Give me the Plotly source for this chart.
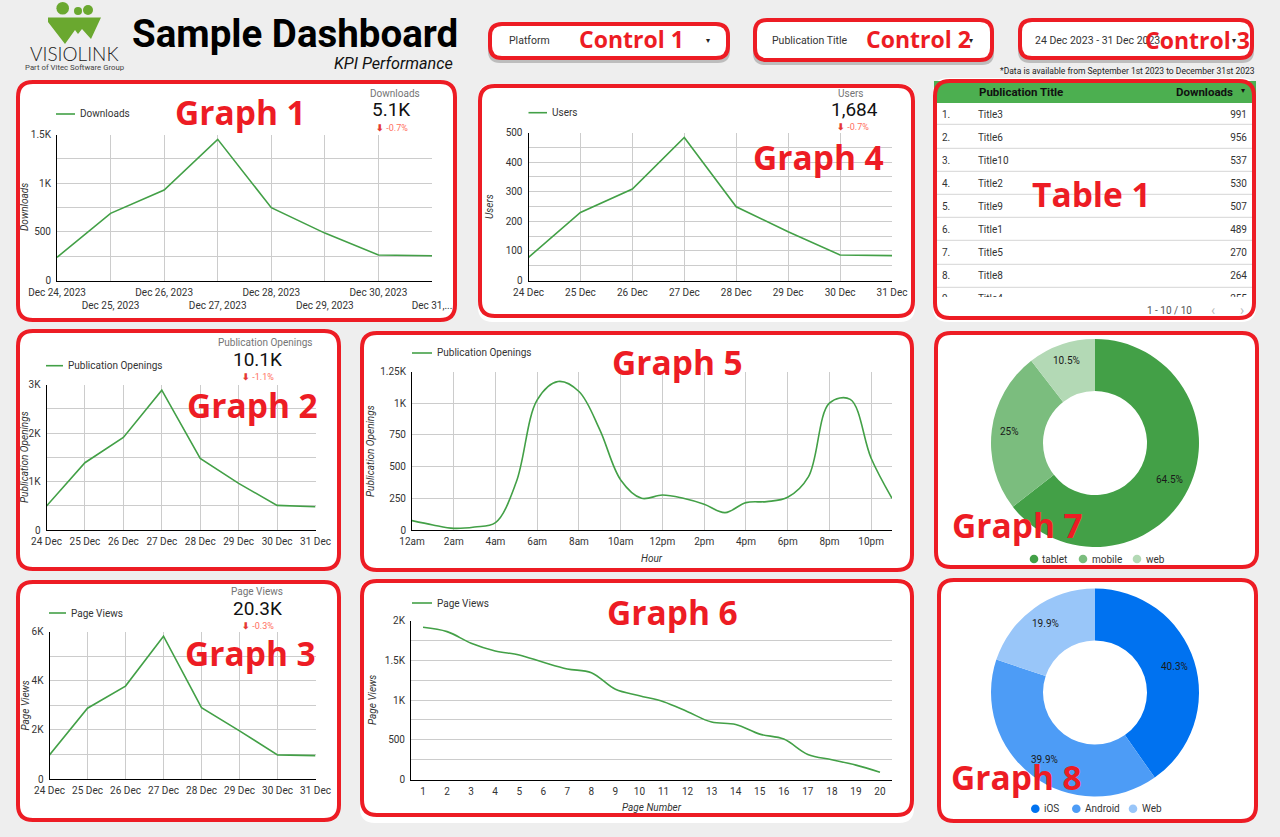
import plotly.graph_objects as go

W = 1280
H = 837

# data
dates_long = ['Dec 24, 2023', '<br>Dec 25, 2023', 'Dec 26, 2023', '<br>Dec 27, 2023', 'Dec 28, 2023',
              '<br>Dec 29, 2023', 'Dec 30, 2023', '<br>Dec 31,...']
dates_short = ['24 Dec', '25 Dec', '26 Dec', '27 Dec', '28 Dec', '29 Dec', '30 Dec', '31 Dec']
downloads = [238, 690, 930, 1450, 748, 487, 262, 255]
users = [78, 230, 309, 483, 249, 165, 86, 84]
openings = [494, 1387, 1908, 2883, 1476, 961, 508, 480]
views = [980, 2880, 3780, 5810, 2900, 1960, 980, 950]

hours = list(range(24))
hour_ticks = [0, 2, 4, 6, 8, 10, 12, 14, 16, 18, 20, 22]
hour_labels = ['12am', '2am', '4am', '6am', '8am', '10am', '12pm', '2pm', '4pm', '6pm', '8pm', '10pm']
openings_by_hour = [74, 40, 13, 24, 58, 380, 1026, 1171, 1092, 790, 395, 250, 276, 250, 203, 137, 216, 224, 258,
                    421, 1000, 1030, 566, 250]

pages = list(range(1, 21))
views_by_page = [1915, 1860, 1714, 1617, 1567, 1474, 1390, 1344, 1134, 1054, 979, 853, 722, 693, 571, 508, 315,
                 248, 181, 92]

table_rank = ['1.', '2.', '3.', '4.', '5.', '6.', '7.', '8.', '9.']
table_titles = ['Title3', 'Title6', 'Title10', 'Title2', 'Title9', 'Title1', 'Title5', 'Title8', 'Title4']
table_downloads = [991, 956, 537, 530, 507, 489, 270, 264, 255]

platforms = ['tablet', 'mobile', 'web']
platform_share = [64.5, 25, 10.5]
platform_text = ['64.5%', '25%', '10.5%']
systems = ['iOS', 'Android', 'Web']
system_share = [40.3, 39.9, 19.9]
system_text = ['40.3%', '39.9%', '19.9%']

green = '#43A047'
greens = ['#43A047', '#7BBD7E', '#B3D9B5']
blues = ['#0072F0', '#4D9CF6', '#99C6F9']
red = '#ED1C24'
grid = '#CCCCCC'
ink = '#333333'
font = 'Roboto'


def px(x):
    return x / W


def py(y):
    return 1 - y / H


def rounded(x0, y0, x1, y1, r):
    a, b, c, d = px(x0), px(x1), py(y0), py(y1)
    rx, ry = r / W, r / H
    return (f'M {a + rx} {c} L {b - rx} {c} Q {b} {c} {b} {c - ry} L {b} {d + ry} Q {b} {d} {b - rx} {d} '
            f'L {a + rx} {d} Q {a} {d} {a} {d + ry} L {a} {c - ry} Q {a} {c} {a + rx} {c} Z')


shapes = []
annotations = []


def box(x0, y0, x1, y1, r=15, fill='white', line=None, lw=0, layer='below'):
    shapes.append(dict(type='path', path=rounded(x0, y0, x1, y1, r), xref='paper', yref='paper', fillcolor=fill,
                       line=dict(color=line or 'rgba(0,0,0,0)', width=lw), layer=layer))


def panel(x0, y0, x1, y1, r=15):
    box(x0 + 2, y0 + 2, x1 - 2, y1 - 2, r, fill='white', line=red, lw=4)


def label(x, y, text, size=10, color=ink, anchor='center', angle=0, family=font, weight=None):
    annotations.append(dict(x=px(x), y=py(y), xref='paper', yref='paper', text=text, showarrow=False, xanchor=anchor,
                            yanchor='middle', textangle=angle, borderpad=0,
                            font=dict(size=size, color=color, family=family, weight=weight)))


def rule(x0, y0, x1, y1, color, width=1, layer='below'):
    shapes.append(dict(type='line', x0=px(x0), x1=px(x1), y0=py(y0), y1=py(y1), xref='paper', yref='paper',
                       line=dict(color=color, width=width), layer=layer))


def dot(x, y, r, color):
    shapes.append(dict(type='circle', x0=px(x - r), x1=px(x + r), y0=py(y - r), y1=py(y + r), xref='paper',
                       yref='paper', fillcolor=color, line=dict(width=0), layer='below'))


def line_legend(x0, x1, y, name):
    rule(x0, y, x1, y, green, 1.6)
    label(x1 + 3.5, y, name, 10, ink, 'left')


def kpi(x_title, x_value, x_delta, y_title, y_value, y_delta, name, value, delta):
    label(x_title, y_title, name, 10, '#757575')
    label(x_value, y_value, value, 19, '#111111')
    label(x_delta, y_delta, f'<span style="color:#E53935"><b>⬇</b></span> {delta}', 9, '#FF6F60')


fig = go.Figure()


def line_chart(n, box_px, x, y, xticks, xlabels, yticks, ylabels, xrange, yrange, vgrid=True, smooth=False):
    x0, y0, x1, y1 = box_px
    sx = 'x' if n == 1 else f'x{n}'
    sy = 'y' if n == 1 else f'y{n}'
    fig.add_trace(go.Scatter(x=x, y=y, mode='lines', xaxis=sx, yaxis=sy, showlegend=False,
                             line=dict(color=green, width=1.6, shape='spline' if smooth else 'linear',
                                       smoothing=1)))
    fig.update_layout({
        ('xaxis' if n == 1 else f'xaxis{n}'): dict(
            domain=[px(x0), px(x1)], anchor=sy, range=xrange, tickmode='array', tickvals=xticks, ticktext=xlabels,
            showgrid=vgrid, gridcolor=grid, gridwidth=1, zeroline=False, showline=True, linecolor='#000000',
            linewidth=1, ticks='outside', ticklen=2, tickcolor='rgba(0,0,0,0)', tickangle=0,
            tickfont=dict(size=10, color=ink, family=font)),
        ('yaxis' if n == 1 else f'yaxis{n}'): dict(
            domain=[py(y1), py(y0)], anchor=sx, range=yrange, tickmode='array', tickvals=yticks, ticktext=ylabels,
            showgrid=True, gridcolor=grid, gridwidth=1, zeroline=False, showline=True, linecolor='#000000',
            linewidth=1, ticks='outside', ticklen=3, tickcolor='rgba(0,0,0,0)',
            tickfont=dict(size=10, color=ink, family=font)),
    })


# background panels
box(478, 84, 915, 322, 15)
box(933, 78, 1256, 322, 15)
box(360, 579, 914, 823, 15)
panel(16, 80, 457, 322)
panel(478, 84, 915, 318)
panel(16, 329, 341, 571)
panel(360, 331, 914, 572)
panel(16, 580, 341, 822)
panel(360, 579, 914, 817)
panel(934, 331, 1259, 569)
panel(937, 578, 1258, 823)

# filter controls
for c in [(488, 22, 730, 60), (753, 18, 994, 62), (1018, 18, 1254, 60)]:
    box(c[0], c[1] + 3, c[2], c[3] + 3, 12, fill='#BDBDBD')
    box(c[0] + 2, c[1] + 2, c[2] - 2, c[3] - 2, 12, fill='white', line=red, lw=4)
label(508, 41, 'Platform', 10.5, ink, 'left')
label(771, 41, 'Publication Title', 10.5, ink, 'left')
label(1034, 41, '24 Dec 2023 - 31 Dec 2023', 10.5, ink, 'left')
label(708, 41, '▾', 8, '#222222')
label(971, 41, '▾', 8, '#222222')
label(1234, 41, '▾', 8, '#222222')
label(1127, 71, '*Data is available from September 1st 2023 to December 31st 2023', 8.5, '#222222')

# header
dot(62.7, 8.3, 6.3, '#6AA82F')
dot(78, 11, 4, '#6AA82F')
dot(88, 10, 5, '#6AA82F')
logo = [(48, 17.5), (101, 17.5), (91, 39), (82, 29), (78, 34), (75, 30), (65, 44), (48, 22)]
shapes.append(dict(type='path', xref='paper', yref='paper', fillcolor='#6AA82F', line=dict(width=0), layer='below',
                   path='M ' + ' L '.join(f'{px(a)} {py(b)}' for a, b in logo) + ' Z'))
label(74.5, 54, 'VISIOLINK', 19, '#222222', family='Lato', weight=300)
label(74.5, 68, 'Part of Vitec Software Group', 7.8, '#444444')
label(294.5, 33, '<b>Sample Dashboard</b>', 38.5, '#000000')
label(393.5, 63, '<i>KPI Performance</i>', 16.2, '#111111')

# line charts
day_pos = list(range(8))
line_chart(1, (57, 134.5, 432, 280.5), day_pos, downloads, day_pos, dates_long,
           [0, 250, 500, 750, 1000, 1250, 1500], ['0', '', '500', '', '1K', '', '1.5K'], [0, 7], [0, 1500])
line_chart(2, (46.5, 384.5, 315.5, 530), day_pos, openings, day_pos, dates_short,
           [0, 500, 1000, 1500, 2000, 2500, 3000], ['0', '', '1K', '', '2K', '', '3K'], [0, 7], [0, 3000])
line_chart(3, (49.5, 631.5, 315.5, 779), day_pos, views, day_pos, dates_short,
           [0, 1000, 2000, 3000, 4000, 5000, 6000], ['0', '', '2K', '', '4K', '', '6K'], [0, 7], [0, 6000])
line_chart(4, (528.5, 132.5, 892, 280.5), day_pos, users, day_pos, dates_short,
           [0, 50, 100, 150, 200, 250, 300, 350, 400, 450, 500],
           ['0', '', '100', '', '200', '', '300', '', '400', '', '500'], [0, 7], [0, 500])
line_chart(5, (412, 371.5, 892, 530), hours, openings_by_hour, hour_ticks, hour_labels,
           [0, 250, 500, 750, 1000, 1250], ['0', '250', '500', '750', '1K', '1.25K'], [0, 23], [0, 1250], smooth=True)
line_chart(6, (411, 620.5, 892, 779.5), pages, views_by_page, pages, [str(p) for p in pages],
           [0, 250, 500, 750, 1000, 1250, 1500, 1750, 2000], ['0', '', '500', '', '1K', '', '1.5K', '', '2K'],
           [0.5, 20.5], [0, 2000], vgrid=False, smooth=True)

line_legend(56, 75, 114, 'Downloads')
line_legend(46, 63, 365.7, 'Publication Openings')
line_legend(49, 66, 613, 'Page Views')
line_legend(528.5, 547, 112.7, 'Users')
line_legend(412, 432, 353, 'Publication Openings')
line_legend(412, 432, 603, 'Page Views')

label(24, 207, '<i>Downloads</i>', 10, ink, angle=-90)
label(24, 457, '<i>Publication Openings</i>', 10, ink, angle=-90)
label(24.5, 706, '<i>Page Views</i>', 10, ink, angle=-90)
label(489, 207, '<i>Users</i>', 10, ink, angle=-90)
label(370, 451, '<i>Publication Openings</i>', 10, ink, angle=-90)
label(372, 700, '<i>Page Views</i>', 10, ink, angle=-90)
label(652, 558, '<i>Hour</i>', 10, ink)
label(652, 807, '<i>Page Number</i>', 10, ink)

kpi(395, 391, 392, 94, 110, 128, 'Downloads', '5.1K', '-0.7%')
kpi(851, 854, 852.5, 94, 110, 127, 'Users', '1,684', '-0.7%')
kpi(265, 257.7, 258, 342.7, 359.3, 376.7, 'Publication Openings', '10.1K', '-1.1%')
kpi(257, 257, 258, 591.7, 608, 625.7, 'Page Views', '20.3K', '-0.3%')

# table: plotly forces a tall header row when it has text, so the header labels sit on top as annotations
fig.add_trace(go.Table(
    domain=dict(x=[px(934), px(1256)], y=[py(298), py(81)]),
    columnwidth=[36, 186, 100],
    header=dict(values=['', '', ''], height=21, fill_color='#4CAF50', line_color='#4CAF50', line_width=1,
                font=dict(size=1, color='#111111', family=font)),
    cells=dict(values=[table_rank, table_titles, table_downloads], height=23, fill_color='white', line_color='white',
               line_width=1, align=['left', 'left', 'right'], font=dict(size=10, color=ink, family=font)),
))
label(977.5, 92, '<b>Publication Title</b>', 11.5, '#111111', 'left')
label(1234, 92, '<b>Downloads</b>', 11.5, '#111111', 'right')
label(1243, 91, '▾', 8, '#111111')
for yy in [124.3, 148.3, 171.3, 194.3, 217.3, 240.3, 264.3, 287.3]:
    rule(935, yy, 1254, yy, '#D5D5D5', 1, layer='above')
label(1169, 310, '1 - 10 / 10', 10, '#555555')
label(1213, 310, '‹', 14, '#BBBBBB')
label(1242, 310, '›', 14, '#BBBBBB')
box(935, 81, 1254, 318, 15, fill='rgba(0,0,0,0)', line=red, lw=4, layer='above')

# donuts
fig.add_trace(go.Pie(labels=platforms, values=platform_share, textinfo='none', hole=0.5,
                     sort=False, direction='clockwise', rotation=0, showlegend=False, marker=dict(colors=greens),
                     domain=dict(x=[px(991), px(1199)], y=[py(547), py(339)])))
fig.add_trace(go.Pie(labels=systems, values=system_share, textinfo='none', hole=0.5,
                     sort=False, direction='clockwise', rotation=0, showlegend=False, marker=dict(colors=blues),
                     domain=dict(x=[px(991), px(1199)], y=[py(796.5), py(588.5)])))

for xl, yl, t in zip([1169, 1009, 1066.7], [479, 431.7, 360.7], platform_text):
    label(xl, yl, t, 10, '#1A1A1A')
for xl, yl, t in zip([1174, 1044, 1045.7], [666.7, 759.7, 623.7], system_text):
    label(xl, yl, t, 10, '#1A1A1A')

for xd, xt, name, col in zip([1034, 1083, 1137], [1041, 1090.7, 1144.7], platforms, greens):
    dot(xd, 559, 4.3, col)
    label(xt, 559, name, 10, ink, 'left')
for xd, xt, name, col in zip([1035.3, 1076.3, 1133], [1042.7, 1084, 1140.7], systems, blues):
    dot(xd, 808.7, 4.3, col)
    label(xt, 808.7, name, 10, ink, 'left')

# red callouts
callouts = [('Graph 1', 240, 112), ('Graph 2', 252, 405), ('Graph 3', 250, 653), ('Graph 4', 818, 157),
            ('Graph 5', 677, 362), ('Graph 6', 672, 612), ('Graph 7', 1017, 525), ('Graph 8', 1016, 777),
            ('Table 1', 1091, 194), ('Control 1', 631.5, 39), ('Control 2', 918, 39), ('Control 3', 1197, 40)]
for text, cx, cy in callouts:
    label(cx, cy, f'<b>{text}</b>', 23 if text.startswith('Control') else 33.5, red, family='Open Sans')

fig.update_layout(width=W, height=H, autosize=False,
                  margin=dict(l=0, r=0, t=0, b=0, pad=0, autoexpand=False), paper_bgcolor='#EEEEEE',
                  plot_bgcolor='rgba(0,0,0,0)', shapes=shapes, annotations=annotations, showlegend=False,
                  font=dict(family=font))

fig.write_html('out.html', config=dict(displayModeBar=False), post_script="document.body.style.margin='0';")
